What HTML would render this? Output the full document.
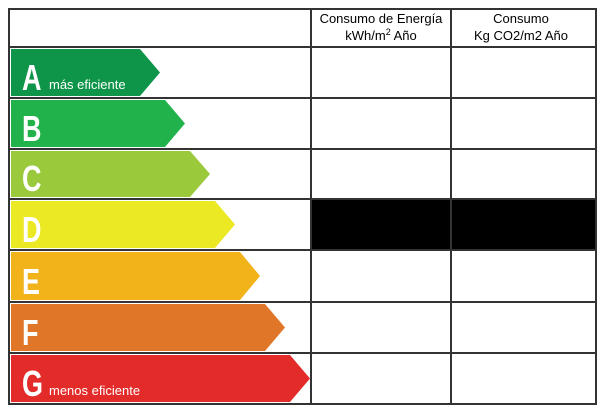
<!DOCTYPE html>
<html><head><meta charset="utf-8"><style>
body{margin:0;background:#fff;width:600px;height:413px;overflow:hidden;font-family:"Liberation Sans",sans-serif}
</style></head><body>
<svg width="600" height="413">
<g id="arrows"></g>
<g id="grid" stroke="#333" stroke-width="2" fill="none"></g>
<text x="381" y="23" font-size="13" text-anchor="middle">Consumo de Energía</text>
<text x="381" y="40" font-size="13" text-anchor="middle">kWh/m<tspan dy="-5" font-size="9">2</tspan><tspan dy="5"> Año</tspan></text>
<text x="521" y="23" font-size="13" text-anchor="middle">Consumo</text>
<text x="521" y="40" font-size="13" text-anchor="middle">Kg CO2/m2 Año</text>
</svg>
<script>
const letters=['A','B','C','D','E','F','G'];
const colors=['#0f9549','#22b24c','#9ac93b','#ebe824','#f2b21a','#e07628','#e32b2a'];
const subs=['más eficiente','','','','','','menos eficiente'];
const ns='http://www.w3.org/2000/svg';
const svg=document.querySelector('svg'),ag=document.getElementById('arrows'),gg=document.getElementById('grid');
const rowY=[47,98,149,199,250,302,353,404];
function mk(t,a,p){const e=document.createElementNS(ns,t);for(const k in a)e.setAttribute(k,a[k]);p.appendChild(e);return e;}
// black cells row D
for(const [x0,x1] of [[311,451],[451,596]]){
 const r=mk('rect',{x:x0,y:rowY[3],width:x1-x0,height:rowY[4]-rowY[3],fill:'#000'},ag);
 
 
}
letters.forEach((L,i)=>{
 const y0=rowY[i]+2,y1=rowY[i+1]-2,tip=160+25*i,d=20,l=11;
 const p=mk('polygon',{points:`${l},${y0} ${tip-d},${y0} ${tip},${(y0+y1)/2} ${tip-d},${y1} ${l},${y1}`,fill:colors[i]},ag);
 
 
 const t=mk('text',{x:22,y:y1-6,'font-size':36,'font-weight':'bold',fill:'#fff',transform:`translate(22 ${y1-6}) scale(0.75 1) translate(-22 ${-(y1-6)})`},ag);
 t.textContent=L;
 
 
 if(subs[i]){const s=mk('text',{x:49,y:y1-7,'font-size':13,fill:'#fff'},ag);s.textContent=subs[i];
 
 }
});
mk('rect',{x:9,y:9,width:587,height:395},gg);
rowY.slice(0,-1).forEach(y=>mk('line',{x1:9,x2:596,y1:y,y2:y},gg));
[311,451].forEach(x=>mk('line',{x1:x,x2:x,y1:9,y2:404},gg));
</script>
</body></html>
